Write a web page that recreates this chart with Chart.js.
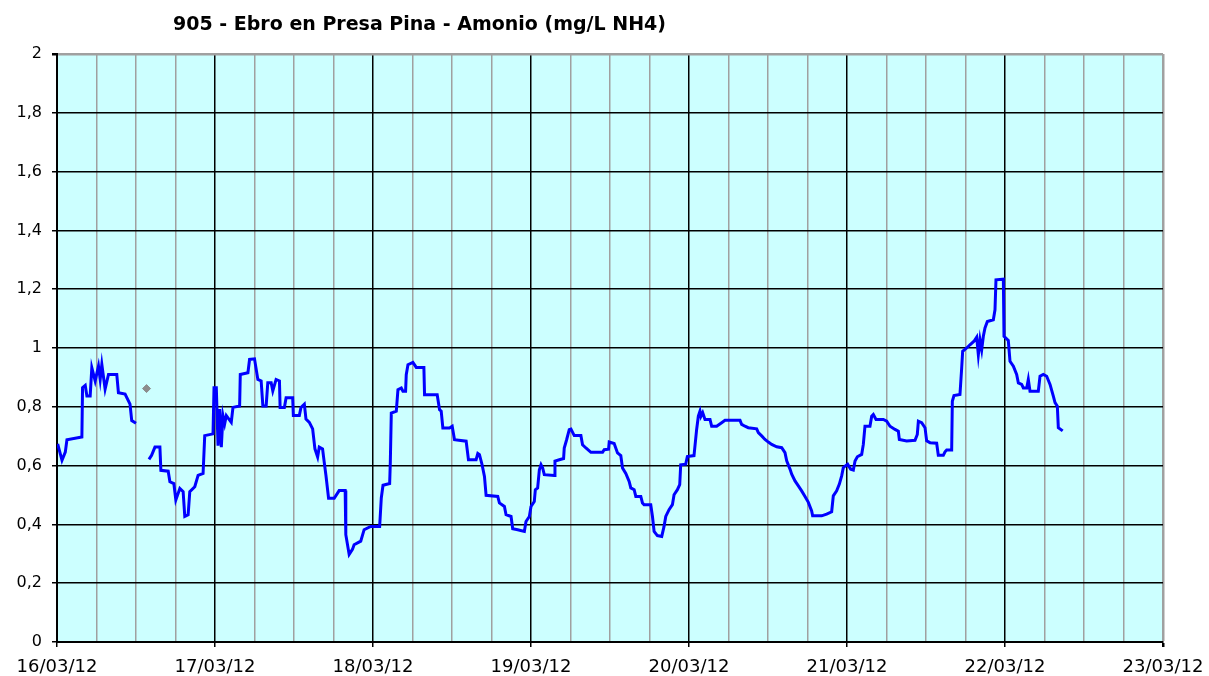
<!DOCTYPE html>
<html>
<head>
<meta charset="utf-8">
<script src="https://cdn.jsdelivr.net/npm/chart.js@4/dist/chart.umd.min.js"></script>
<style>
  html, body { margin: 0; padding: 0; background: #fff; }
  #wrap { width: 1209px; height: 676px; position: relative; }
</style>
</head>
<body>
<div id="wrap"><canvas id="myChart" width="1209" height="676"></canvas></div>
<script>
const chartTitle = '905 - Ebro en Presa Pina - Amonio (mg/L NH4)';
const dayLabels = ['16/03/12', '17/03/12', '18/03/12', '19/03/12', '20/03/12', '21/03/12', '22/03/12', '23/03/12'];

// hours since 16/03/12 00:00 ; null value = gap in the record
const hours = [
    0.1, 0.76, 1.26, 1.51, 3.78, 3.88, 4.29, 4.54, 5.04, 5.29, 5.8, 6.3, 6.56, 6.81, 7.31, 7.82, 9.08, 9.33, 10.34, 11.09, 11.35, 12.0,
    13.0,
    13.97, 14.37, 14.88, 15.63, 15.78, 16.89, 17.15, 17.75, 18.05, 18.66, 19.16, 19.41, 19.92, 20.17, 20.93, 21.43, 22.19, 22.44, 23.7, 23.85,
    24.2, 24.46, 24.71, 24.96, 25.21, 25.47, 25.72, 26.47, 26.73, 27.74, 27.84, 29.0, 29.25, 30.0, 30.51, 31.01, 31.27, 31.77, 32.02, 32.53,
    32.78, 33.28, 33.79, 33.89, 34.54, 34.8, 35.8, 35.9, 36.81, 37.06, 37.57, 37.82, 38.33, 38.83, 39.18, 39.59, 39.84, 40.34, 40.59, 40.85,
    41.25, 42.11, 42.86, 43.77, 43.87, 44.38, 44.88, 45.13, 46.14, 46.65, 47.65,
    49.01, 49.26, 49.52, 50.53, 50.63, 50.78, 51.54, 51.79, 52.3, 52.55, 52.95, 53.05, 53.31, 54.06, 54.57, 55.73, 55.83, 57.75, 58.11, 58.36,
    58.61, 59.62, 60.03, 60.38, 62.15, 62.5, 63.66, 63.92, 64.17, 64.57, 64.93, 65.18, 66.95, 67.2, 67.96, 68.21, 68.97, 69.22, 69.98, 70.99,
    71.24, 71.75, 72.0, 72.5, 72.66, 73.01, 73.27, 73.52, 73.77, 74.02, 75.54, 75.64, 76.3, 76.95, 77.05, 77.41, 77.81, 78.07, 78.57, 79.58,
    79.83, 80.34, 81.1, 82.87, 83.12, 83.78, 83.88, 84.63, 85.14, 85.64, 85.9, 86.4, 86.91, 87.16, 87.67, 87.92, 88.68, 88.93, 89.18, 90.19,
    90.45, 90.7, 91.2, 91.86, 92.21, 92.47, 92.97, 93.48, 93.73, 94.24, 94.59, 94.74, 95.5, 95.75, 96.76,
    97.16, 97.42, 97.67, 97.82, 98.08, 98.43, 99.19, 99.44, 100.2, 100.96, 101.47, 103.75, 104.0, 104.5, 105.0, 106.28, 106.53, 107.04, 107.54, 108.05,
    108.56, 109.32, 110.08, 110.58, 110.84, 111.34, 111.6, 112.1, 112.61, 113.11, 113.62, 114.13, 114.63, 114.78, 116.15, 116.91, 117.67, 117.92, 118.43, 118.84,
    119.19, 119.44, 120.1, 120.56, 120.96, 121.22, 121.57, 122.23, 122.48, 122.73, 123.49, 123.75, 124.0, 124.41, 125.52, 126.03, 126.53, 127.29, 127.8, 127.95,
    129.06, 130.33, 130.68, 130.84, 131.34, 131.85, 132.1, 132.61, 133.62, 133.87, 134.63, 134.89, 135.14, 135.9, 136.0, 136.25, 137.16, 137.42, 137.57, 138.18,
    138.68, 139.29, 139.7, 139.95, 140.2, 140.46, 140.71, 140.96, 141.32, 142.23, 142.48, 142.63, 143.75, 143.85, 144.5, 144.76, 145.27, 145.77, 146.03, 146.53,
    146.79, 147.3, 147.54, 147.8, 149.06, 149.32, 149.82, 150.33, 150.84, 151.34, 151.6, 151.95, 152.1, 152.76
];
const amonio = [
    0.674, 0.618, 0.646, 0.688, 0.697, 0.865, 0.873, 0.837, 0.837, 0.933, 0.888, 0.938, 0.893, 0.944, 0.86, 0.91, 0.91, 0.848, 0.843, 0.809, 0.753, 0.744,
    null,
    0.621, 0.635, 0.663, 0.663, 0.584, 0.581, 0.545, 0.539, 0.483, 0.522, 0.511, 0.427, 0.433, 0.511, 0.528, 0.567, 0.573, 0.702, 0.708, 0.865,
    0.865, 0.668, 0.792, 0.663, 0.77, 0.742, 0.77, 0.747, 0.798, 0.803, 0.91, 0.916, 0.961, 0.963, 0.893, 0.888, 0.803, 0.803, 0.882, 0.882,
    0.854, 0.893, 0.888, 0.798, 0.798, 0.831, 0.831, 0.77, 0.77, 0.798, 0.809, 0.758, 0.747, 0.725, 0.657, 0.629, 0.663, 0.657, 0.612, 0.567,
    0.489, 0.489, 0.515, 0.515, 0.365, 0.298, 0.315, 0.331, 0.343, 0.382, 0.393,
    0.393, 0.49, 0.533, 0.539, 0.611, 0.779, 0.785, 0.858, 0.864, 0.853, 0.853, 0.909, 0.943, 0.951, 0.934, 0.934, 0.841, 0.841, 0.79, 0.785,
    0.728, 0.728, 0.734, 0.688, 0.683, 0.62, 0.62, 0.641, 0.637, 0.603, 0.563, 0.499, 0.495, 0.473, 0.461, 0.433, 0.427, 0.385, 0.382, 0.376,
    0.41, 0.427, 0.461, 0.478, 0.518, 0.524, 0.586, 0.603, 0.592, 0.569, 0.566, 0.615, 0.62, 0.624, 0.66, 0.688, 0.722, 0.724, 0.702, 0.702,
    0.671, 0.66, 0.645, 0.645, 0.654, 0.656, 0.68, 0.675, 0.643, 0.634, 0.592, 0.573, 0.546, 0.524, 0.518, 0.495, 0.495, 0.473, 0.467, 0.467,
    0.427, 0.376, 0.362, 0.359, 0.393, 0.427, 0.45, 0.467, 0.501, 0.518, 0.535, 0.603, 0.605, 0.631, 0.634,
    0.723, 0.768, 0.785, 0.768, 0.78, 0.757, 0.757, 0.734, 0.734, 0.746, 0.754, 0.754, 0.74, 0.734, 0.729, 0.725, 0.712, 0.701, 0.689, 0.68,
    0.672, 0.664, 0.661, 0.644, 0.616, 0.588, 0.571, 0.548, 0.531, 0.514, 0.495, 0.475, 0.446, 0.429, 0.429, 0.435, 0.443, 0.497, 0.514, 0.537,
    0.565, 0.593, 0.605, 0.588, 0.585, 0.616, 0.63, 0.638, 0.672, 0.734, 0.734, 0.768, 0.774, 0.757, 0.757, 0.751, 0.734, 0.723, 0.717, 0.689,
    0.684, 0.686, 0.706, 0.751, 0.746, 0.729, 0.684, 0.678, 0.676, 0.635, 0.635, 0.647, 0.653, 0.653, 0.819, 0.838, 0.842, 0.932, 0.989, 1.0,
    1.011, 1.023, 1.037, 0.977, 1.028, 0.994, 1.04, 1.068, 1.09, 1.096, 1.13, 1.232, 1.234, 1.04, 1.026, 0.955, 0.938, 0.91, 0.881, 0.876,
    0.864, 0.864, 0.893, 0.853, 0.853, 0.904, 0.91, 0.904, 0.876, 0.836, 0.814, 0.802, 0.729, 0.718
];
// isolated reading shown as a grey marker
const loneHours = [13.6];
const loneValues = [0.862];

const plotBackground = {
    id: 'plotBackground',
    beforeDraw(chart) {
        const { ctx, chartArea: a } = chart;
        ctx.save();
        ctx.fillStyle = '#ccffff';
        ctx.fillRect(a.left, a.top, a.right - a.left, a.bottom - a.top);
        ctx.restore();
    }
};

const titleText = {
    id: 'titleText',
    afterDraw(chart) {
        const ctx = chart.ctx;
        ctx.save();
        ctx.font = 'bold 19px "DejaVu Sans"';
        ctx.fillStyle = '#000';
        ctx.textAlign = 'left';
        ctx.textBaseline = 'alphabetic';
        ctx.fillText(chartTitle, 173, 30);
        ctx.restore();
    }
};

const renderChart = () => {
    const ctx = document.getElementById('myChart').getContext('2d');
    const lineData = hours.map((h, i) => ({ x: h, y: amonio[i] }));
    const loneData = loneHours.map((h, i) => ({ x: h, y: loneValues[i] }));

    new Chart(ctx, {
        type: 'line',
        data: {
            datasets: [{
                label: 'Amonio',
                data: lineData,
                borderColor: '#0000ff',
                borderWidth: 3,
                pointRadius: 0,
                tension: 0,
                spanGaps: false
            }, {
                label: 'Aislado',
                data: loneData,
                showLine: false,
                pointStyle: 'rectRot',
                pointRadius: 4,
                backgroundColor: '#8c8c8c',
                borderColor: '#8c8c8c'
            }]
        },
        options: {
            responsive: false,
            animation: false,
            layout: { padding: { top: 54, right: 46, left: 0, bottom: 0 } },
            plugins: {
                legend: { display: false },
                title: { display: false },
                tooltip: { enabled: false }
            },
            scales: {
                x: {
                    type: 'linear',
                    min: 0,
                    max: 168,
                    afterFit: (s) => { s.height = 34; s.paddingLeft = 0; s.paddingRight = 0; },
                    border: { color: '#000', width: 2 },
                    grid: {
                        color: (c) => (c.tick.value % 24 === 0 && c.tick.value < 168) ? '#000' : '#a0a0a0',
                        lineWidth: (c) => c.tick.value >= 168 ? 2.5 : 1.5,
                        tickColor: (c) => c.tick.value % 24 === 0 ? '#000' : 'rgba(0,0,0,0)',
                        tickLength: 5
                    },
                    ticks: {
                        stepSize: 6,
                        autoSkip: false,
                        maxRotation: 0,
                        padding: 10,
                        color: '#000',
                        font: { family: '"DejaVu Sans"', size: 18 },
                        callback: (v) => v % 24 === 0 ? dayLabels[v / 24] : ''
                    }
                },
                y: {
                    min: 0,
                    max: 2,
                    afterFit: (s) => { s.width = 57; s.paddingTop = 0; s.paddingBottom = 0; },
                    border: { color: '#000', width: 2 },
                    grid: {
                        color: (c) => c.tick.value >= 1.99 ? '#a0a0a0' : '#000',
                        lineWidth: (c) => c.tick.value >= 1.99 ? 2.5 : 1.5,
                        tickColor: '#000',
                        tickLength: 5
                    },
                    ticks: {
                        stepSize: 0.2,
                        padding: 10,
                        color: '#000',
                        font: { family: '"DejaVu Sans"', size: 16 },
                        callback: (v) => String(Math.round(v * 10) / 10).replace('.', ',')
                    }
                }
            }
        },
        plugins: [plotBackground, titleText]
    });
};

renderChart();
</script>
</body>
</html>
